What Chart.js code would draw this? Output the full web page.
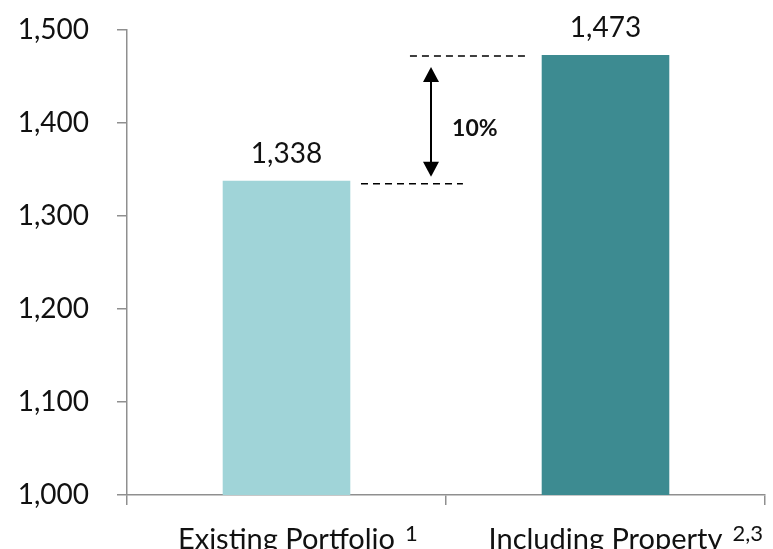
<!DOCTYPE html>
<html>
<head>
<meta charset="utf-8">
<script src="https://cdn.jsdelivr.net/npm/chart.js@4/dist/chart.umd.min.js"></script>
<style>
html,body{margin:0;padding:0;background:#fff;}
#wrap{width:773px;height:549px;position:relative;}
</style>
</head>
<body>
<div id="wrap"><canvas id="c" width="773" height="549"></canvas></div>
<script>
const categories = ["Existing Portfolio", "Including Property"];
const superscripts = ["1", "2,3"];
const values = [1338, 1473];
const barColors = ["#A0D4D8", "#3D8B91"];
const yTicks = [1000, 1100, 1200, 1300, 1400, 1500];

const FONT = "Lato, 'Open Sans', sans-serif";

const annotate = {
  id: 'annotate',
  afterDatasetsDraw(chart) {
    const ctx = chart.ctx;
    const x = chart.scales.x, y = chart.scales.y;
    const meta = chart.getDatasetMeta(0);
    ctx.save();
    // value labels
    ctx.fillStyle = '#111';
    ctx.font = "28px " + FONT;
    ctx.textAlign = 'center';
    ctx.textBaseline = 'alphabetic';
    meta.data.forEach((bar, i) => {
      ctx.fillText(values[i].toLocaleString('en-US'), bar.x, bar.y - 18);
    });
    // x labels superscripts
    ctx.font = "29px " + FONT;
    const widths = categories.map(c => ctx.measureText(c).width);
    ctx.font = "22px " + FONT;
    ctx.textAlign = 'left';
    ctx.textBaseline = 'alphabetic';
    categories.forEach((c, i) => {
      const cx = x.getPixelForValue(i);
      ctx.fillText(superscripts[i], cx + widths[i] / 2 + 10, y.bottom + 46);
    });
    // dashed lines
    const yLow = y.getPixelForValue(values[0]) + 3;
    const yHigh = y.getPixelForValue(values[1]) + 1;
    ctx.strokeStyle = '#000';
    ctx.lineWidth = 1.5;
    ctx.setLineDash([7, 5]);
    ctx.beginPath();
    ctx.moveTo(x.getPixelForValue(0.2335), yLow);
    ctx.lineTo(x.getPixelForValue(0.553), yLow);
    ctx.moveTo(x.getPixelForValue(0.387), yHigh);
    ctx.lineTo(x.getPixelForValue(0.748), yHigh);
    ctx.stroke();
    ctx.setLineDash([]);
    // arrow
    const ax = x.getPixelForValue(0.453);
    const tTop = yHigh + 11, tBot = yLow - 7;
    const ah = 15, aw = 8;
    ctx.lineWidth = 2;
    ctx.beginPath();
    ctx.moveTo(ax, tTop + ah - 2);
    ctx.lineTo(ax, tBot - ah + 2);
    ctx.stroke();
    ctx.fillStyle = '#000';
    ctx.beginPath();
    ctx.moveTo(ax, tTop); ctx.lineTo(ax - aw, tTop + ah); ctx.lineTo(ax + aw, tTop + ah); ctx.closePath(); ctx.fill();
    ctx.beginPath();
    ctx.moveTo(ax, tBot); ctx.lineTo(ax - aw, tBot - ah); ctx.lineTo(ax + aw, tBot - ah); ctx.closePath(); ctx.fill();
    // percent text
    const pct = Math.round((values[1] / values[0] - 1) * 100) + '%';
    ctx.font = "bold 23px " + FONT;
    ctx.textAlign = 'left';
    ctx.textBaseline = 'middle';
    ctx.fillStyle = '#111';
    ctx.fillText(pct, x.getPixelForValue(0.519), (yLow + yHigh) / 2 + 9);
    ctx.restore();
  }
};

new Chart(document.getElementById('c'), {
  type: 'bar',
  data: {
    labels: categories,
    datasets: [{
      data: values,
      backgroundColor: barColors,
      borderWidth: 0,
      barPercentage: 0.4,
      categoryPercentage: 1.0
    }]
  },
  options: {
    responsive: false,
    animation: false,
    devicePixelRatio: 1,
    layout: { padding: { top: 30, right: 8, left: 0, bottom: 0 } },
    plugins: { legend: { display: false }, tooltip: { enabled: false } },
    scales: {
      x: {
        offset: true,
        grid: { display: true, drawOnChartArea: false, offset: true, tickLength: 10, color: '#8f8f8f', lineWidth: 1.5 },
        border: { display: true, color: '#8f8f8f', width: 1.5 },
        ticks: { color: '#111', font: { family: FONT, size: 29 }, padding: 17, maxRotation: 0, autoSkip: false },
        afterFit(s) { s.height = 54; }
      },
      y: {
        min: 1000, max: 1500,
        afterBuildTicks(s) { s.ticks = yTicks.map(v => ({ value: v })); },
        grid: { display: true, drawOnChartArea: false, tickLength: 10, color: '#8f8f8f', lineWidth: 1.5 },
        border: { display: true, color: '#8f8f8f', width: 1.5 },
        ticks: { color: '#111', font: { family: FONT, size: 28 }, padding: 28,
          callback: v => v.toLocaleString('en-US') },
        afterFit(s) { s.width = 127; s.paddingTop = 15; s.paddingBottom = 0; }
      }
    }
  },
  plugins: [annotate]
});
</script>
</body>
</html>
